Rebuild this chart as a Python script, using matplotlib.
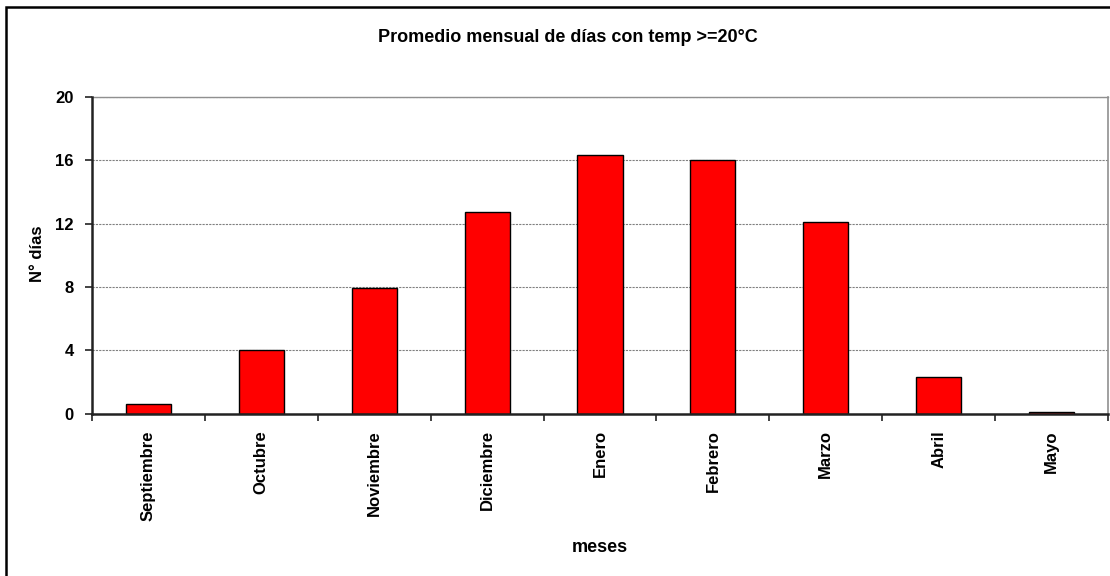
import matplotlib
matplotlib.use("Agg")
import matplotlib.pyplot as plt
from matplotlib.patches import Rectangle

meses = ["Septiembre", "Octubre", "Noviembre", "Diciembre", "Enero",
         "Febrero", "Marzo", "Abril", "Mayo"]
dias = [0.6, 4.05, 7.95, 12.7, 16.3, 16.0, 12.1, 2.3, 0.13]
yticks = [0, 4, 8, 12, 16, 20]

plt.rcParams['font.family'] = ['Liberation Sans', 'DejaVu Sans']
plt.rcParams['font.weight'] = 'bold'

W, H = 1110, 576
fig = plt.figure(figsize=(W / 100, H / 100), dpi=100)

# outer chart border (right and bottom edges fall outside the image)
fig.add_artist(Rectangle((6 / W, -5 / H), (W + 10) / W, (H - 2) / H,
                         transform=fig.transFigure, fill=False,
                         edgecolor='black', linewidth=1.8))

left, right, top, bottom = 92, 1108, 96.7, 413.7
ax = fig.add_axes([left / W, 1 - bottom / H, (right - left) / W, (bottom - top) / H])

x = list(range(len(meses)))
ax.bar(x, dias, width=0.4, color='#FF0000', edgecolor='black', linewidth=1.0, zorder=3)

ax.set_xlim(-0.5, len(meses) - 0.5)
ax.set_ylim(0, 20)
ax.set_yticks(yticks)
ax.set_yticklabels([str(v) for v in yticks], fontsize=12, fontweight='bold')
ax.set_xticks(x)
ax.set_xticklabels(meses, rotation=90, fontsize=12, fontweight='bold', va='top', ha='center')
ax.tick_params(axis='x', length=0, pad=12)
ax.set_xticks([i + 0.5 for i in range(-1, len(meses))], minor=True)
ax.tick_params(axis='x', which='minor', length=5, width=1.2, color='#222222', direction='out')
ax.tick_params(axis='y', length=5, width=1.2, color='#222222', direction='out', pad=8)

ax.grid(axis='y', color='#808080', linestyle=(0, (2, 1)), linewidth=0.8, zorder=0)
ax.set_axisbelow(True)

for s in ['left', 'bottom']:
    ax.spines[s].set_color('#222222')
    ax.spines[s].set_linewidth(1.8)
    ax.spines[s].set_zorder(4)
ax.spines['right'].set_color('#909090')
ax.spines['right'].set_linewidth(1.2)
ax.spines['top'].set_color('#909090')
ax.spines['top'].set_linewidth(1.0)

fig.text(568 / W, 1 - 38 / H, "Promedio mensual de días con temp >=20°C",
         ha='center', va='center', fontsize=13, fontweight='bold')
fig.text(600 / W, 1 - 548 / H, "meses", ha='center', va='center',
         fontsize=13, fontweight='bold')
fig.text(37 / W, 1 - 254 / H, "N° días", ha='center', va='center',
         rotation=90, fontsize=12, fontweight='bold')

fig.savefig("out.png", dpi=100)
